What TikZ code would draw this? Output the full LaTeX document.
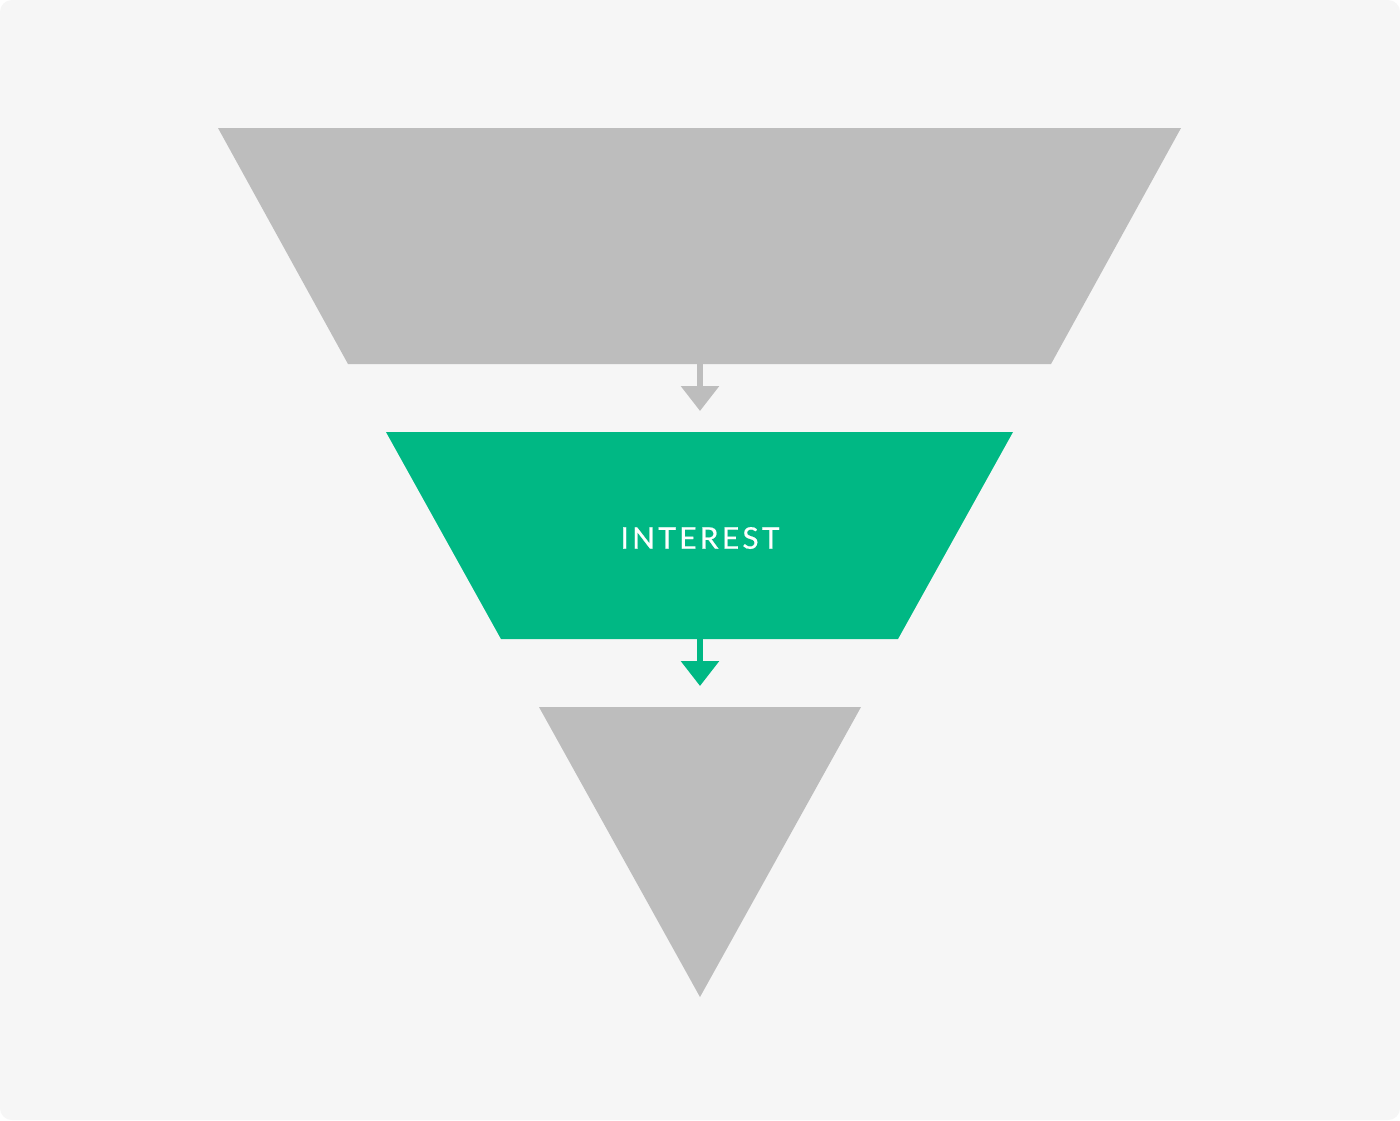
\documentclass[tikz,border=0pt]{standalone}
\usepackage{fontspec}
\setsansfont{Lato}
\usetikzlibrary{arrows.meta}
\definecolor{funnelgray}{HTML}{BDBDBD}
\definecolor{funnelgreen}{HTML}{00B884}
\definecolor{canvas}{HTML}{F6F6F6}
\newcommand{\stagefont}{\sffamily\fontsize{8.5}{10}\selectfont\addfontfeature{LetterSpace=11,FakeBold=0.5}}

\begin{document}
\begin{tikzpicture}[x=0.01cm,y=-0.01cm,
  stage/.style={fill=funnelgray},
  flow/.style={line width=0.06cm,-{Triangle[width=0.37cm,length=0.25cm]}}]
\useasboundingbox (0,0) rectangle (1400,1120);
\fill[white] (0,0) rectangle (1400,1120);
\fill[canvas,rounded corners=0.12cm] (0,0) rectangle (1400,1120);

% funnel stages
\fill[stage] (218,128) -- (1181,128) -- (1051,364) -- (348,364) -- cycle;
\fill[stage,fill=funnelgreen] (386,432) -- (1013,432) -- (898,639) -- (501,639) -- cycle;
\fill[stage] (539,707) -- (861,707) -- (700,997) -- cycle;

\node[text=white,font=\stagefont] (interest) at (700,538) {INTEREST};

\coordinate (top-out) at (700,364);
\coordinate (mid-in) at (700,411);
\coordinate (mid-out) at (700,639);
\coordinate (bot-in) at (700,686);

\draw[flow,funnelgray] (top-out) -- (mid-in);
\draw[flow,funnelgreen] (mid-out) -- (bot-in);
\end{tikzpicture}
\end{document}
